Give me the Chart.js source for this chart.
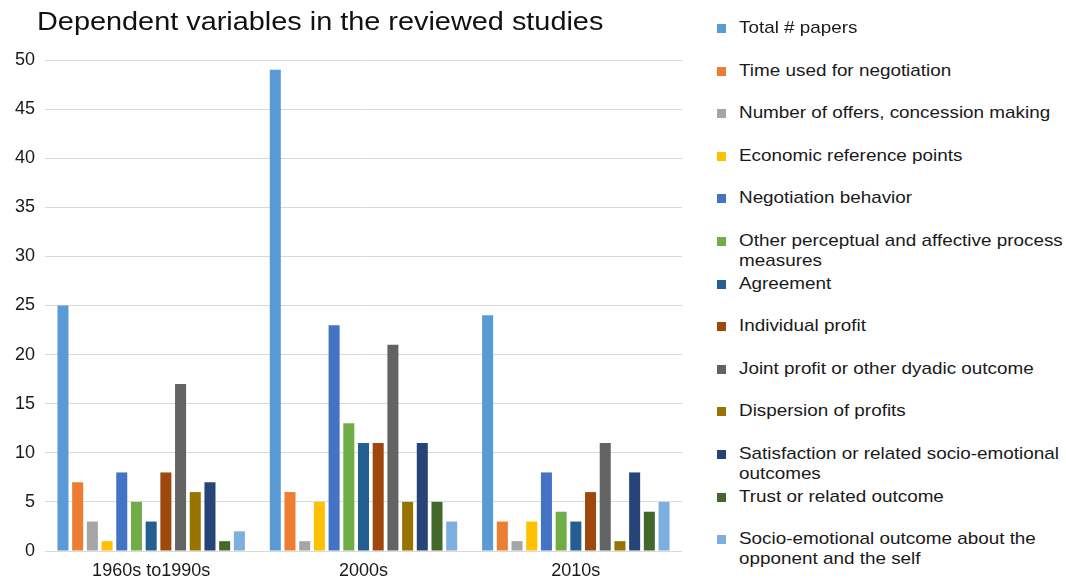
<!DOCTYPE html>
<html>
<head>
<meta charset="utf-8">
<script src="https://cdn.jsdelivr.net/npm/chart.js"></script>
<style>
  body { margin: 0; background: #fff; font-family: "Liberation Sans", Arial, sans-serif; }
  #wrap { position: relative; width: 1066px; height: 581px; overflow: hidden; }
  #title { position: absolute; left: 37px; top: 6px; font-size: 26px; color: #111; white-space: nowrap;
           transform: scaleX(1.11); transform-origin: left top; }
  #box { position: absolute; left: 0; top: 0; width: 700px; height: 581px; }
  #legend { position: absolute; left: 717px; top: 0; width: 349px; height: 581px; }
  .item { position: absolute; left: 0; }
  .mark { position: absolute; left: 0; top: 6px; width: 9px; height: 9px; }
  .txt { position: absolute; left: 22px; width: 292px; font-size: 17px; line-height: 20px; color: #1a1a1a;
         transform: scaleX(1.11); transform-origin: left top; }
</style>
</head>
<body>
<div id="wrap">
  <div id="box"><canvas id="myChart" width="700" height="581"></canvas></div>
  <div id="title">Dependent variables in the reviewed studies</div>
  <div id="legend"></div>
</div>
<script>
var categories = ['1960s to1990s', '2000s', '2010s'];

var seriesNames = [
  'Total # papers',
  'Time used for negotiation',
  'Number of offers, concession making',
  'Economic reference points',
  'Negotiation behavior',
  'Other perceptual and affective process measures',
  'Agreement',
  'Individual profit',
  'Joint profit or other dyadic outcome',
  'Dispersion of profits',
  'Satisfaction or related socio-emotional outcomes',
  'Trust or related outcome',
  'Socio-emotional outcome about the opponent and the self'
];

var totalPapers   = [25, 49, 24];
var timeUsed      = [7, 6, 3];
var numOffers     = [3, 1, 1];
var econRef       = [1, 5, 3];
var negBehavior   = [8, 23, 8];
var otherPercept  = [5, 13, 4];
var agreement     = [3, 11, 3];
var indivProfit   = [8, 11, 6];
var jointProfit   = [17, 21, 11];
var dispersion    = [6, 5, 1];
var satisfaction  = [7, 11, 8];
var trust         = [1, 5, 4];
var socioSelf     = [2, 3, 5];

var yTicks = [0, 5, 10, 15, 20, 25, 30, 35, 40, 45, 50];

var seriesValues = [totalPapers, timeUsed, numOffers, econRef, negBehavior, otherPercept,
  agreement, indivProfit, jointProfit, dispersion, satisfaction, trust, socioSelf];

var colors = ['#5b9bd5', '#ed7d31', '#a5a5a5', '#ffc000', '#4472c4', '#70ad47',
  '#255e91', '#9e480e', '#636363', '#997300', '#264478', '#43682b', '#7cafdd'];

var datasets = [];
for (var i = 0; i < seriesNames.length; i++) {
  datasets.push({
    label: seriesNames[i],
    data: seriesValues[i],
    backgroundColor: colors[i],
    borderWidth: 0,
    barPercentage: 0.75,
    categoryPercentage: 0.9
  });
}

var ctx = document.getElementById('myChart').getContext('2d');
var chart = new Chart(ctx, {
  type: 'bar',
  data: { labels: categories, datasets: datasets },
  options: {
    responsive: false,
    animation: false,
    layout: { padding: { top: 60, right: 18, bottom: 1, left: 0 } },
    plugins: { legend: { display: false }, tooltip: { enabled: false } },
    scales: {
      x: {
        afterFit: function (s) { s.height = 29; },
        grid: { display: false, drawTicks: false },
        border: { display: false },
        ticks: { color: '#1a1a1a', padding: 9, maxRotation: 0, font: { family: 'Liberation Sans', size: 18 } }
      },
      y: {
        min: 0, max: 50,
        afterFit: function (s) { s.width = 45; },
        afterBuildTicks: function (s) { s.ticks = yTicks.map(function (v) { return { value: v }; }); },
        grid: { color: '#d9d9d9', lineWidth: 1, drawTicks: false },
        border: { display: false },
        ticks: { color: '#1a1a1a', padding: 10, font: { family: 'Liberation Sans', size: 18 } }
      }
    }
  }
});

// html legend, text wraps like the original
var leg = document.getElementById('legend');
for (var j = 0; j < seriesNames.length; j++) {
  var it = document.createElement('div');
  it.className = 'item';
  it.style.top = (18 + j * 42.6) + 'px';
  it.innerHTML = '<div class="mark" style="background:' + colors[j] + '"></div>' +
    '<div class="txt">' + seriesNames[j] + '</div>';
  leg.appendChild(it);
}
</script>
</body>
</html>
